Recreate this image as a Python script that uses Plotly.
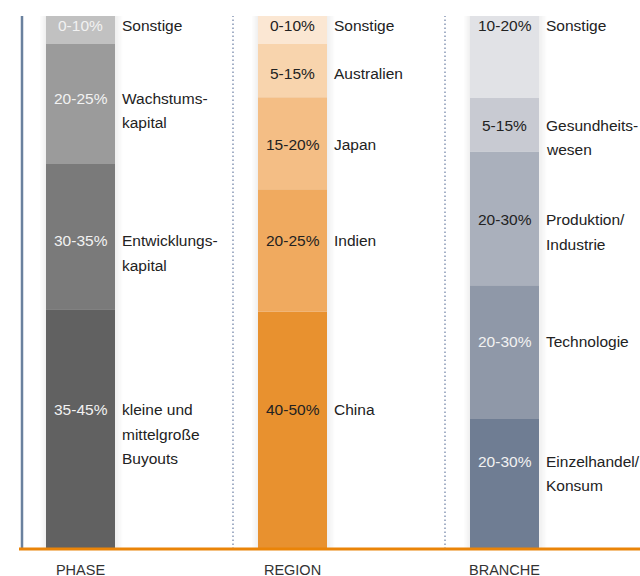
import plotly.graph_objects as go
import numpy as np

# ---------------- data ----------------
categories = ["PHASE", "REGION", "BRANCHE"]

# segments listed bottom -> top
phase_names = ["kleine und<br>mittelgroße<br>Buyouts", "Entwicklungs-<br>kapital", "Wachstums-<br>kapital", "Sonstige"]
phase_values = [45.0, 27.25, 22.5, 5.25]
phase_ranges = ["35-45%", "30-35%", "20-25%", "0-10%"]

region_names = ["China", "Indien", "Japan", "Australien", "Sonstige"]
region_values = [44.5, 23.0, 17.25, 10.0, 5.25]
region_ranges = ["40-50%", "20-25%", "15-20%", "5-15%", "0-10%"]

branche_names = ["Einzelhandel/<br>Konsum", "Technologie", "Produktion/<br>Industrie", "Gesundheits-<br>wesen", "Sonstige"]
branche_values = [24.4, 25.1, 25.1, 10.0, 15.4]
branche_ranges = ["20-30%", "20-30%", "20-30%", "5-15%", "10-20%"]

# ---------------- styling / label anchors ----------------
phase_colors = ["#616161", "#7a7a7a", "#9b9b9b", "#c1c1c1"]
region_colors = ["#e8912f", "#f0aa5f", "#f4be85", "#f8d4ad", "#fbe7d3"]
branche_colors = ["#6f7d93", "#8f98a8", "#aab0bc", "#c8cad2", "#e1e2e6"]

phase_text_colors = ["#f2f2f2"] * 4
region_text_colors = ["#222222"] * 5
branche_text_colors = ["#f2f2f2", "#f2f2f2", "#222222", "#222222", "#222222"]

phase_label_y = [26.1, 57.8, 84.6, 98.3]
region_label_y = [26.1, 57.8, 75.8, 89.3, 98.3]
branche_label_y = [16.5, 39.0, 61.75, 79.55, 98.3]

groups = [
    (phase_names, phase_values, phase_ranges, phase_colors, phase_text_colors, phase_label_y),
    (region_names, region_values, region_ranges, region_colors, region_text_colors, region_label_y),
    (branche_names, branche_values, branche_ranges, branche_colors, branche_text_colors, branche_label_y),
]

FONT = "Liberation Sans, Arial, Helvetica, sans-serif"
FS = 15.5
PX = 1 / 212
BAR_W = 69 * PX
LINE_H = 24.5

fig = go.Figure()
annotations = []
shapes = []

for i, (names, vals, ranges, colors, tcolors, ly) in enumerate(groups):
    base = list(np.concatenate([[0], np.cumsum(vals)[:-1]]))
    # soft shadow behind bar
    for k in range(1, 6):
        shapes.append(dict(type="rect", xref="x", yref="y", layer="below",
                           x0=i - BAR_W / 2 - k * 1.2 * PX, x1=i + BAR_W / 2 + k * 1.5 * PX,
                           y0=0, y1=100 + k * 0.12,
                           fillcolor="rgba(0,0,0,0.012)", line=dict(width=0)))
    fig.add_trace(go.Bar(
        x=[i] * len(vals), y=vals, base=base, width=BAR_W,
        marker=dict(color=colors, line=dict(width=0)),
        hoverinfo="skip", showlegend=False,
    ))
    for name, rng, tc, yv in zip(names, ranges, tcolors, ly):
        annotations.append(dict(x=i, y=yv, xref="x", yref="y", text=rng, showarrow=False,
                                xanchor="center", yanchor="middle",
                                font=dict(family=FONT, size=FS, color=tc)))
        for j, line in enumerate(name.split("<br>")):
            annotations.append(dict(x=i + BAR_W / 2, y=yv, xref="x", yref="y", text=line,
                                    showarrow=False, xanchor="left", yanchor="middle",
                                    xshift=5, yshift=-j * LINE_H,
                                    font=dict(family=FONT, size=FS, color="#222222")))

# left axis line and dotted separators
LINE_OFF = 59.5 * PX
shapes.append(dict(type="line", xref="x", yref="y", x0=-LINE_OFF + PX, x1=-LINE_OFF + PX,
                   y0=0, y1=100, line=dict(color="#6a819e", width=2.5)))
for i in [1, 2]:
    shapes.append(dict(type="line", xref="x", yref="y", x0=i - LINE_OFF, x1=i - LINE_OFF,
                       y0=0, y1=100, line=dict(color="#8797b5", width=1.5, dash="1.5px,2.5px")))
# orange baseline (paper-referenced so it is not clipped at the plot edge)
shapes.append(dict(type="line", xref="paper", yref="paper", x0=19 / 640, x1=1, y0=0, y1=0,
                   line=dict(color="#ea8408", width=3)))

fig.update_layout(
    width=640, height=576,
    margin=dict(l=0, r=0, t=16, b=27),
    paper_bgcolor="white", plot_bgcolor="white",
    barmode="overlay",
    xaxis=dict(range=[-80.5 / 212, (640 - 80.5) / 212], tickvals=[0, 1, 2], ticktext=categories,
               showgrid=False, zeroline=False, showline=False, ticks="", automargin=False,
               tickfont=dict(family=FONT, size=14.5, color="#333333"), ticklabelstandoff=10),
    yaxis=dict(range=[0, 100], visible=False, showgrid=False, zeroline=False, automargin=False),
    shapes=shapes, annotations=annotations,
)

fig.write_html("out.html")
